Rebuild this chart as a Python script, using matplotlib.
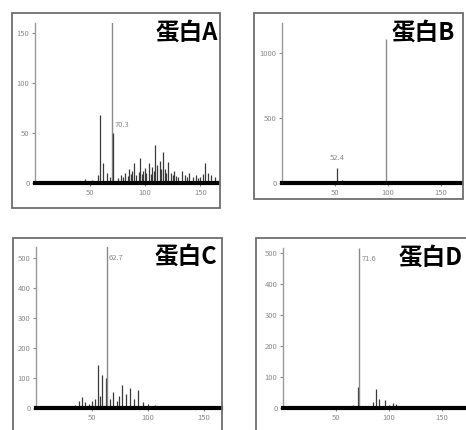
import matplotlib
matplotlib.use('Agg')
import matplotlib.pyplot as plt
from matplotlib.patches import Rectangle

plt.rcParams['font.family'] = ['Noto Sans CJK SC', 'DejaVu Sans']

W, H = 466, 430

# panel titles
titles = ['蛋白A', '蛋白B', '蛋白C', '蛋白D']

# protein A: stick spectrum (m/z, intensity)
a_mz = [20, 45, 52, 57, 59, 62, 65, 68, 70, 71, 75, 78, 80, 82, 84, 85, 87, 88, 90, 92, 94, 95,
        97, 98, 100, 101, 103, 105, 106, 108, 109, 111, 113, 114, 116, 118, 119, 121, 123, 125,
        126, 128, 130, 133, 136, 138, 140, 143, 146, 148, 150, 152, 154, 157, 160, 163]
a_int = [2, 4, 3, 8, 68, 20, 10, 6, 165, 50, 5, 8, 6, 10, 7, 14, 9, 12, 20, 8, 11, 25,
         9, 12, 15, 10, 20, 9, 16, 12, 38, 18, 22, 14, 31, 14, 10, 21, 10, 8,
         12, 7, 6, 12, 8, 6, 10, 6, 8, 5, 6, 9, 20, 10, 8, 6]
a_yticks = [0, 50, 100, 150]
a_label = '70.3'

# protein B
b_mz = [52, 57, 60, 98, 120, 140]
b_int = [115, 25, 15, 1110, 12, 5]
b_yticks = [0, 500, 1000]
b_label = '52.4'

# protein C
c_mz = [35, 38, 41, 44, 47, 50, 53, 55, 57, 59, 62, 63, 66, 69, 72, 74, 77, 80, 84,
        87, 91, 95, 100, 106, 112, 120, 130, 140, 150, 158]
c_int = [10, 25, 37, 20, 15, 22, 30, 143, 40, 110, 100, 540, 30, 53, 25, 40, 77, 47, 67,
         30, 60, 20, 12, 10, 8, 6, 8, 5, 6, 5]
c_yticks = [0, 100, 200, 300, 400, 500]
c_label = '62.7'

# protein D
d_mz = [40, 55, 66, 71, 72, 78, 82, 85, 88, 91, 96, 100, 104, 107, 115, 130]
d_int = [3, 4, 10, 68, 516, 6, 8, 20, 62, 30, 25, 10, 15, 12, 5, 3]
d_yticks = [0, 100, 200, 300, 400, 500]
d_label = '71.6'

x_ticks = [50, 100, 150]

# pixel boxes: (left, top, right, bottom)
axes_px = [(35, 23, 218, 183), (282, 23, 461, 183), (36, 247, 221, 408), (283, 248, 465, 408)]
frames_px = [(12, 13, 220, 208), (254, 13, 463, 199), (13, 238, 222, 440), (256, 238, 480, 440)]
title_px = [(218, 33), (455, 33), (217, 257), (463, 258)]
xlims = [(0, 166), (0, 169), (0, 165), (0, 172)]
ylims = [(0, 160), (0, 1230), (0, 537), (0, 516)]
label_y = [58, 165, 500, 480]

fig = plt.figure(figsize=(W / 100, H / 100), dpi=100)

for (l, t, r, b) in frames_px:
    fig.add_artist(Rectangle((l / W, 1 - b / H), (r - l) / W, (b - t) / H,
                             transform=fig.transFigure, fill=False,
                             edgecolor='#6e6e6e', lw=1.3))

data = [(a_mz, a_int, a_yticks, a_label),
        (b_mz, b_int, b_yticks, b_label),
        (c_mz, c_int, c_yticks, c_label),
        (d_mz, d_int, d_yticks, d_label)]

for i, (mz, inten, yt, lab) in enumerate(data):
    l, t, r, b = axes_px[i]
    ax = fig.add_axes([l / W, 1 - b / H, (r - l) / W, (b - t) / H])
    top = max(inten)
    for x, y in zip(mz, inten):
        if y == top:
            ax.vlines(x, 0, y, color='#8a8a8a', lw=1.0)
        else:
            ax.vlines(x, 0, y, color='#3a3a3a', lw=0.9)
    ax.set_xlim(*xlims[i])
    ax.set_ylim(*ylims[i])
    ax.set_xticks(x_ticks)
    ax.set_yticks(yt)
    ax.tick_params(labelsize=5.5, labelcolor='#8a8a8a', length=2, color='#8a8a8a', pad=2)
    for s in ['top', 'right']:
        ax.spines[s].set_visible(False)
    ax.spines['left'].set_color('#9a9a9a')
    ax.spines['left'].set_linewidth(1.0)
    ax.spines['bottom'].set_color('black')
    ax.spines['bottom'].set_linewidth(3)
    ax.patch.set_alpha(0)

    # peak label
    if i == 1:
        ax.text(mz[0], label_y[i], lab, fontsize=5.5, color='#8a8a8a', ha='center', va='bottom')
    else:
        j = inten.index(top)
        ax.text(mz[j] + 2, label_y[i], lab, fontsize=5.5, color='#8a8a8a',
                ha='left', va='center')

    tx, ty = title_px[i]
    fig.text(tx / W, 1 - ty / H, titles[i], fontsize=17, fontweight='bold',
             ha='right', va='center', color='black')

fig.savefig('out.png', dpi=100)
